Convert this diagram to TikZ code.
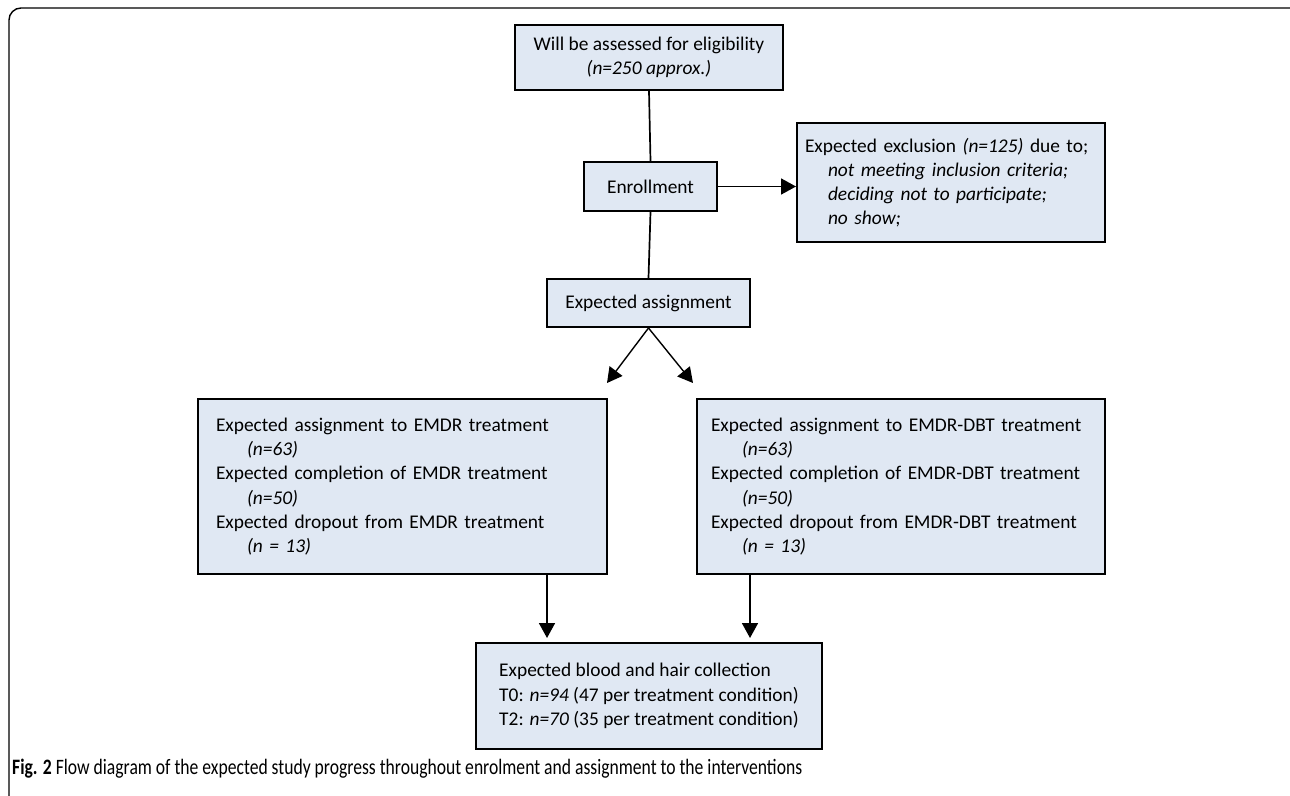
\documentclass[tikz,border=0pt]{standalone}
\usepackage{fontspec}
\setmainfont{Carlito}
\newfontfamily\capfont[FakeStretch=0.80]{Carlito}
\usetikzlibrary{arrows.meta, positioning, calc}

\definecolor{boxfill}{RGB}{224,232,243}

\begin{document}
\begin{tikzpicture}[x=1pt, y=-1pt,
  box/.style={draw=black, line width=2pt, fill=boxfill, font=\fontsize{19.4}{24.2}\selectfont,
              inner sep=0pt, align=center},
  leftbox/.style={box, align=left},
  arr/.style={line width=1.7pt, -{Triangle[length=15pt, width=16pt]}},
  link/.style={line width=1.7pt}]

  \useasboundingbox (0,0) rectangle (1290,795);

  % frame of the figure
  \draw[line width=1.4pt, rounded corners=12pt] (9,800) -- (9,8) -- (1295,8);

  % top of the flow
  \node[box, minimum width=268pt, minimum height=65pt] (elig) at (649,57.5)
    {Will be assessed for eligibility\\\textit{(n=250 approx.)}};
  \node[box, minimum width=133pt, minimum height=49pt] (enrol) at (650.5,186.5) {Enrollment};
  \node[leftbox, text width=292pt, inner xsep=8pt, minimum height=119pt] (excl) at (951,182.5)
    {\mbox{Expected exclusion \textit{(n=125)} due to;}\\
     \hspace*{23pt}\textit{not meeting inclusion criteria;}\\
     \hspace*{23pt}\textit{deciding not to participate;}\\
     \hspace*{23pt}\textit{no show;}};
  \node[box, minimum width=203pt, minimum height=48pt] (assign) at (648.5,303) {Expected assignment};

  % the two arms
  \node[leftbox, text width=373pt, inner xsep=18pt, minimum height=175pt] (emdr) at (402.5,486.5)
    {Expected assignment to EMDR treatment\\
     \hspace*{31pt}\textit{(n=63)}\\
     Expected completion of EMDR treatment\\
     \hspace*{31pt}\textit{(n=50)}\\
     Expected dropout from EMDR treatment\\
     \hspace*{31pt}\textit{(n = 13)}};
  \node[leftbox, text width=380pt, inner xsep=14pt, minimum height=175pt] (dbt) at (901,486.5)
    {\mbox{Expected assignment to EMDR-DBT treatment}\\
     \hspace*{31pt}\textit{(n=63)}\\
     \mbox{Expected completion of EMDR-DBT treatment}\\
     \hspace*{31pt}\textit{(n=50)}\\
     \mbox{Expected dropout from EMDR-DBT treatment}\\
     \hspace*{31pt}\textit{(n = 13)}};

  \node[leftbox, minimum width=346pt, minimum height=106pt] (blood) at (649,696)
    {Expected blood and hair collection\\
     T0: \textit{n=94} (47 per treatment condition)\\
     T2: \textit{n=70} (35 per treatment condition)};

  \coordinate (tipL) at (607,383);
  \coordinate (tipR) at (693,383);

  % connectors
  \draw[link] (elig.south) -- (enrol.north);
  \draw[link] (enrol.south) -- (assign.north);
  \draw[arr] (enrol.east) -- (enrol.east -| excl.west);
  \draw[line width=1.4pt, -{Triangle[length=15pt, width=16pt]}] (assign.south) -- (tipL);
  \draw[line width=1.4pt, -{Triangle[length=15pt, width=16pt]}] (assign.south) -- (tipR);
  \draw[arr, shorten >=4pt] ([xshift=144.5pt]emdr.south) -- ([xshift=144.5pt]emdr.south |- blood.north);
  \draw[arr, shorten >=4pt] ([xshift=-151pt]dbt.south) -- ([xshift=-151pt]dbt.south |- blood.north);

  % caption
  \node[anchor=base west, inner sep=0pt, font=\capfont\fontsize{22}{26}\selectfont] (capt) at (12,774)
    {\textbf{Fig. 2} Flow diagram of the expected study progress throughout enrolment and assignment to the interventions};

\end{tikzpicture}
\end{document}
